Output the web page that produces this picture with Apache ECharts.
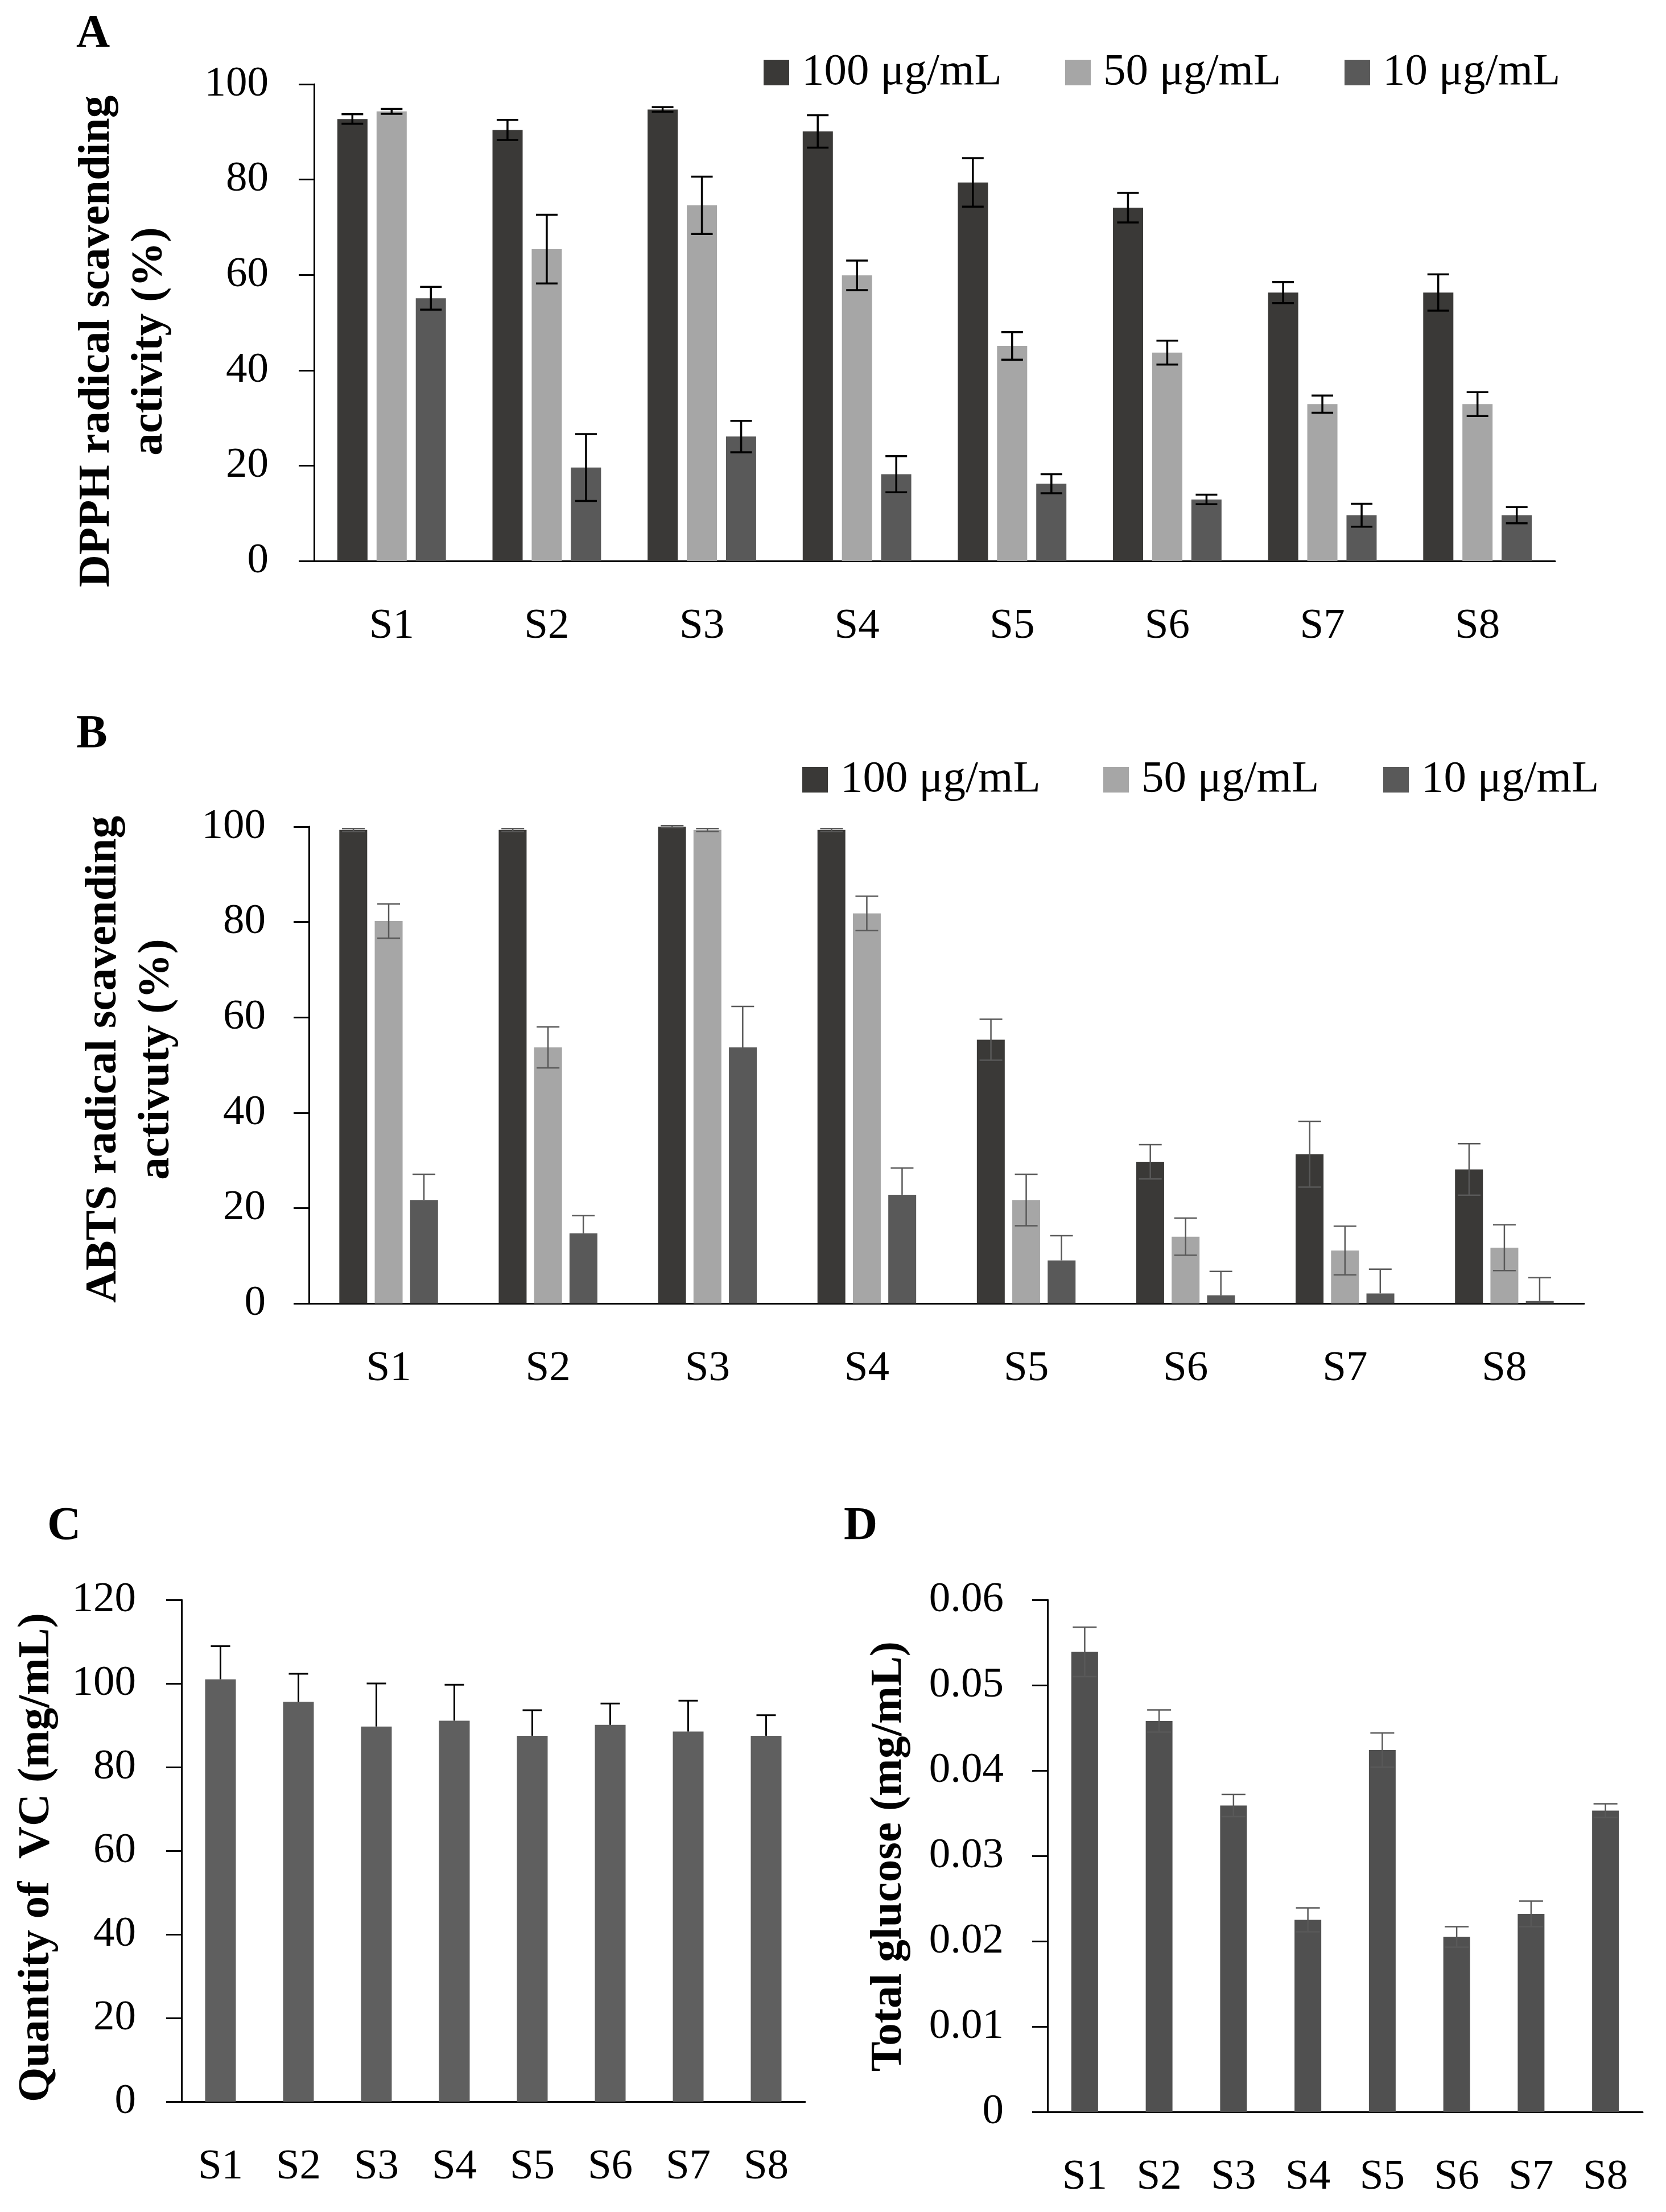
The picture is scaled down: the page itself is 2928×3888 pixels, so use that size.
<!DOCTYPE html>
<html>
<head>
<meta charset="UTF-8">
<title>Antioxidant activity</title>
<script src="https://cdn.jsdelivr.net/npm/echarts@6/dist/echarts.min.js"></script>
<style>
  html, body { margin: 0; padding: 0; background: #fff; }
  #main { width: 2928px; height: 3888px; }
</style>
</head>
<body>
<div id="main"></div>
<script>
var samples = ['S1', 'S2', 'S3', 'S4', 'S5', 'S6', 'S7', 'S8'];
var doseNames = ['100 μg/mL', '50 μg/mL', '10 μg/mL'];

// A: DPPH radical scavenging activity (%)
var dpph100 = [92.7, 90.4, 94.7, 90.1, 79.4, 74.1, 56.3, 56.3];
var dpph100Err = [1.0, 2.1, 0.5, 3.4, 5.1, 3.1, 2.2, 3.8];
var dpph50 = [94.3, 65.4, 74.6, 59.9, 45.1, 43.7, 32.9, 32.9];
var dpph50Err = [0.5, 7.2, 6.0, 3.1, 2.9, 2.5, 1.8, 2.5];
var dpph10 = [55.1, 19.6, 26.1, 18.2, 16.2, 12.9, 9.6, 9.6];
var dpph10Err = [2.4, 7.0, 3.3, 3.8, 2.0, 1.0, 2.4, 1.7];

// B: ABTS radical scavenging activity (%)
var abts100 = [99.3, 99.3, 100, 99.3, 55.3, 29.7, 31.3, 28.1];
var abts100Err = [0.3, 0.3, 0.2, 0.3, 4.3, 3.6, 6.9, 5.4];
var abts50 = [80.2, 53.7, 99.3, 81.8, 21.7, 14.0, 11.1, 11.7];
var abts50Err = [3.6, 4.3, 0.3, 3.6, 5.4, 3.9, 5.1, 4.8];
var abts10 = [21.7, 14.7, 53.7, 22.8, 9.0, 1.7, 2.1, 0.5];
var abts10Err = [5.4, 3.7, 8.6, 5.6, 5.2, 5.0, 5.1, 4.9];

// C: quantity of VC (mg/mL)
var vc = [101.0, 95.6, 89.7, 91.1, 87.5, 90.1, 88.5, 87.5];
var vcErr = [7.9, 6.7, 10.3, 8.6, 6.1, 5.1, 7.4, 4.9];

// D: total glucose (mg/mL)
var glucose = [0.0539, 0.0458, 0.0359, 0.0225, 0.0424, 0.0205, 0.0232, 0.0353];
var glucoseErr = [0.0029, 0.0013, 0.0013, 0.0014, 0.0020, 0.0012, 0.0015, 0.0008];

var FONT = '"Liberation Serif", "Times New Roman", serif';
var doseColors = ['#3a3937', '#a6a6a6', '#595959'];

function withErr(vals, errs) {
  return vals.map(function (v, i) { return [i, v, errs[i]]; });
}

// error bar drawn at the category centre plus a pixel offset for grouped bars
function errorBars(offset, halfCap, color, width, upperOnly) {
  return function (params, api) {
    var i = api.value(0), v = api.value(1), e = api.value(2);
    var x = api.coord([i, 0])[0] + offset;
    var yTop = api.coord([i, v + e])[1];
    var yBot = api.coord([i, upperOnly ? v : v - e])[1];
    var st = { stroke: color, lineWidth: width };
    var kids = [
      { type: 'line', shape: { x1: x, y1: yTop, x2: x, y2: yBot }, style: st },
      { type: 'line', shape: { x1: x - halfCap, y1: yTop, x2: x + halfCap, y2: yTop }, style: st }
    ];
    if (!upperOnly) {
      kids.push({ type: 'line', shape: { x1: x - halfCap, y1: yBot, x2: x + halfCap, y2: yBot }, style: st });
    }
    return { type: 'group', children: kids };
  };
}

function xAxisOf(idx) {
  return {
    type: 'category', gridIndex: idx, data: samples,
    axisLine: { lineStyle: { color: '#000', width: 3 } },
    axisTick: { show: false },
    axisLabel: { color: '#000', fontFamily: FONT, fontSize: 75, margin: 78 }
  };
}

function yAxisOf(idx, max, interval, margin) {
  return {
    type: 'value', gridIndex: idx, min: 0, max: max, interval: interval,
    axisLine: { show: true, lineStyle: { color: '#000', width: 3 } },
    axisTick: { show: true, length: 27, lineStyle: { color: '#000', width: 3 } },
    splitLine: { show: false },
    axisLabel: { color: '#000', fontFamily: FONT, fontSize: 75, margin: margin }
  };
}

function legendAt(name, left, centerY) {
  return {
    data: [name], left: left, top: centerY - 39, padding: 0,
    icon: 'rect', itemWidth: 45, itemHeight: 45,
    textStyle: { color: '#000', fontFamily: FONT, fontSize: 79, lineHeight: 78, padding: [0, 0, 0, 17] }
  };
}

function doseBars(name, vals, color, xi, bw, gap) {
  return {
    name: name, type: 'bar', xAxisIndex: xi, yAxisIndex: xi, data: vals,
    barWidth: bw, barGap: gap, itemStyle: { color: color }
  };
}

function errSeries(xi, vals, errs, offset, halfCap, color, width, upperOnly) {
  return {
    type: 'custom', xAxisIndex: xi, yAxisIndex: xi, z: 5,
    renderItem: errorBars(offset, halfCap, color, width, upperOnly),
    encode: { x: 0, y: 1 },
    data: withErr(vals, errs)
  };
}

function textAt(text, x, y, size, rotate) {
  return {
    type: 'text', x: x, y: y, rotation: rotate ? Math.PI / 2 : 0,
    style: {
      text: text, fill: '#000', font: 'bold ' + size + 'px ' + FONT,
      textAlign: rotate ? 'center' : 'left', textVerticalAlign: 'middle',
      lineHeight: rotate ? 93 : size
    }
  };
}

var chart = echarts.init(document.getElementById('main'));

chart.setOption({
  backgroundColor: '#fff',
  animation: false,
  grid: [
    { left: 552, top: 148, right: 195, height: 838 },
    { left: 543, top: 1453, right: 144, height: 838 },
    { left: 319, top: 2812, right: 1513, height: 882 },
    { left: 1841, top: 2812, right: 41, height: 900 }
  ],
  xAxis: [xAxisOf(0), xAxisOf(1), xAxisOf(2), xAxisOf(3)],
  yAxis: [
    yAxisOf(0, 100, 20, 80),
    yAxisOf(1, 100, 20, 76),
    yAxisOf(2, 120, 20, 80),
    yAxisOf(3, 0.06, 0.01, 77)
  ],
  legend: [
    legendAt(doseNames[0], 1342, 127),
    legendAt(doseNames[1], 1872, 127),
    legendAt(doseNames[2], 2363, 127),
    legendAt(doseNames[0], 1410, 1370),
    legendAt(doseNames[1], 1939, 1370),
    legendAt(doseNames[2], 2431, 1370)
  ],
  graphic: [
    textAt('A', 134, 61, 82, false),
    textAt('B', 134, 1292, 82, false),
    textAt('C', 83, 2684, 82, false),
    textAt('D', 1483, 2684, 82, false),
    textAt('DPPH radical scavending\nactivity (%)', 217, 600, 79, true),
    textAt('ABTS radical scavending\nactivuty (%)', 229, 1862, 79, true),
    textAt('Quantity of  VC (mg/mL)', 65, 3265, 79, true),
    textAt('Total glucose (mg/mL)', 1563, 3263, 79, true)
  ],
  series: [
    doseBars(doseNames[0], dpph100, doseColors[0], 0, 53, '30%'),
    doseBars(doseNames[1], dpph50, doseColors[1], 0, 53, '30%'),
    doseBars(doseNames[2], dpph10, doseColors[2], 0, 53, '30%'),
    errSeries(0, dpph100, dpph100Err, -69, 19, '#000', 3.5, false),
    errSeries(0, dpph50, dpph50Err, 0, 19, '#000', 3.5, false),
    errSeries(0, dpph10, dpph10Err, 69, 19, '#000', 3.5, false),

    doseBars(doseNames[0], abts100, doseColors[0], 1, 49, '27%'),
    doseBars(doseNames[1], abts50, doseColors[1], 1, 49, '27%'),
    doseBars(doseNames[2], abts10, doseColors[2], 1, 49, '27%'),
    errSeries(1, abts100, abts100Err, -62, 20, '#595959', 2.5, false),
    errSeries(1, abts50, abts50Err, 0, 20, '#595959', 2.5, false),
    // the lower half of these bars is the same grey as the bar, so only the upper part shows
    errSeries(1, abts10, abts10Err, 62, 20, '#595959', 2.5, true),

    { type: 'bar', xAxisIndex: 2, yAxisIndex: 2, data: vc, barWidth: 54, itemStyle: { color: '#5f5f5f' } },
    errSeries(2, vc, vcErr, 0, 17, '#000', 3, true),

    { type: 'bar', xAxisIndex: 3, yAxisIndex: 3, data: glucose, barWidth: 47, itemStyle: { color: '#505050' } },
    errSeries(3, glucose, glucoseErr, 0, 21, '#595959', 2.5, false)
  ]
});
</script>
</body>
</html>
